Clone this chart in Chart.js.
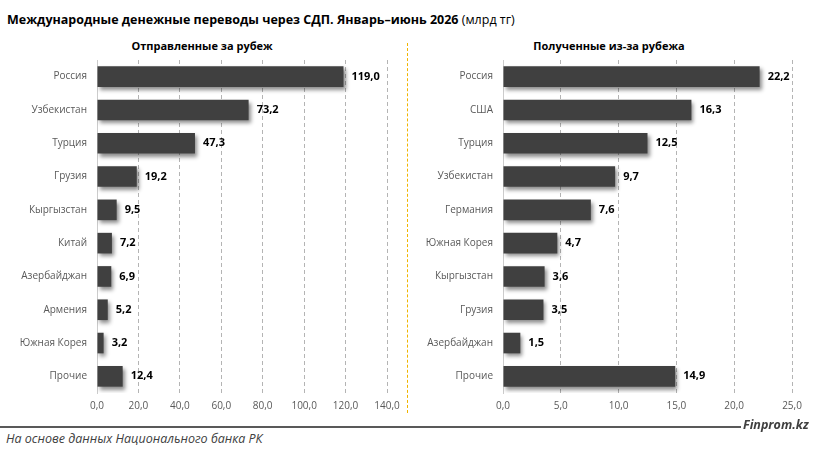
<!DOCTYPE html>
<html>
<head>
<meta charset="utf-8">
<script src="https://cdn.jsdelivr.net/npm/chart.js@4"></script>
<style>
  body { margin: 0; width: 815px; height: 454px; background: #fff; position: relative; overflow: hidden;
         font-family: "Open Sans", sans-serif; }
  .title { position: absolute; left: 7px; top: 11px; font-size: 12.5px; color: #000; white-space: nowrap; }
  .title b { font-weight: 700; }
  .sub { position: absolute; top: 38px; font-size: 11px; font-weight: 700; color: #000; text-align: center; width: 300px; }
  .box { position: absolute; }
  .divider { position: absolute; left: 407px; top: 43px; height: 370px; border-left: 1px dashed #f0b400; }
  .rule { position: absolute; left: 0; top: 426px; width: 741px; height: 2px; background: #595959; }
  .src { position: absolute; left: 6px; top: 430px; font-size: 12.5px; font-style: italic; color: #404040; white-space: nowrap; }
  .brand { position: absolute; left: 743px; top: 416px; font-size: 12.5px; font-weight: 700; font-style: italic; color: #404040; }
</style>
</head>
<body>
<div class="title"><b>Международные денежные переводы через СДП. Январь–июнь 2026</b> (млрд тг)</div>
<div class="sub" style="left:52px">Отправленные за рубеж</div>
<div class="sub" style="left:459px">Полученные из-за рубежа</div>
<div class="divider"></div>
<div class="box" style="left:0;top:55px;width:400px;height:363px"><canvas id="sent"></canvas></div>
<div class="box" style="left:410px;top:55px;width:405px;height:363px"><canvas id="recv"></canvas></div>
<div class="rule"></div>
<div class="src">На основе данных Национального банка РК</div>
<div class="brand">Finprom.kz</div>
<script>
const sentCountries = ["Россия", "Узбекистан", "Турция", "Грузия", "Кыргызстан", "Китай", "Азербайджан", "Армения", "Южная Корея", "Прочие"];
const sentValues = [119.0, 73.2, 47.3, 19.2, 9.5, 7.2, 6.9, 5.2, 3.2, 12.4];
const recvCountries = ["Россия", "США", "Турция", "Узбекистан", "Германия", "Южная Корея", "Кыргызстан", "Грузия", "Азербайджан", "Прочие"];
const recvValues = [22.2, 16.3, 12.5, 9.7, 7.6, 4.7, 3.6, 3.5, 1.5, 14.9];

const fmt = v => Number(v).toFixed(1).replace('.', ',');
const font = "'Open Sans', sans-serif";

// shadow under bars + value labels at bar ends
const barExtras = {
    id: 'barExtras',
    beforeDatasetsDraw(chart) {
        const ctx = chart.ctx;
        ctx.save();
        ctx.shadowColor = 'rgba(0,0,0,0.45)';
        ctx.shadowBlur = 4;
        ctx.shadowOffsetX = 2;
        ctx.shadowOffsetY = 3;
    },
    afterDatasetsDraw(chart) {
        const ctx = chart.ctx;
        ctx.restore();
        const meta = chart.getDatasetMeta(0);
        const data = chart.data.datasets[0].data;
        ctx.save();
        ctx.font = "bold 11px " + font;
        ctx.fillStyle = '#000';
        ctx.textBaseline = 'middle';
        meta.data.forEach((bar, i) => {
            ctx.fillText(fmt(data[i]), bar.x + 8, bar.y);
        });
        ctx.restore();
    }
};

function makeChart(id, labels, values, max, step, axisW, padRight) {
    new Chart(id, {
        type: 'bar',
        data: {
            labels: labels,
            datasets: [{
                data: values,
                backgroundColor: '#404040',
                barPercentage: 0.62,
                categoryPercentage: 1.0
            }]
        },
        options: {
            indexAxis: 'y',
            responsive: true,
            maintainAspectRatio: false,
            animation: false,
            layout: { padding: { left: 0, right: padRight, top: 5, bottom: 0 } },
            plugins: { legend: { display: false }, tooltip: { enabled: false } },
            scales: {
                x: {
                    min: 0, max: max,
                    ticks: { stepSize: step, callback: v => fmt(v), color: '#595959', font: { family: font, size: 10 }, padding: 7 },
                    grid: { color: '#b4b4b4', lineWidth: 1, drawTicks: false },
                    border: { display: false, dash: [4, 3] },
                    afterFit: s => { s.paddingLeft = 0; s.paddingRight = 0; s.height = 25; }
                },
                y: {
                    ticks: { color: '#595959', font: { family: font, size: 10 }, padding: 10 },
                    grid: { display: false, drawTicks: false },
                    border: { display: true, color: '#cccccc' },
                    afterFit: s => { s.width = axisW; s.paddingTop = 0; s.paddingBottom = 0; }
                }
            }
        },
        plugins: [barExtras]
    });
}

makeChart('sent', sentCountries, sentValues, 140, 20, 97, 13);
makeChart('recv', recvCountries, recvValues, 25, 5, 93, 23);
</script>
</body>
</html>
